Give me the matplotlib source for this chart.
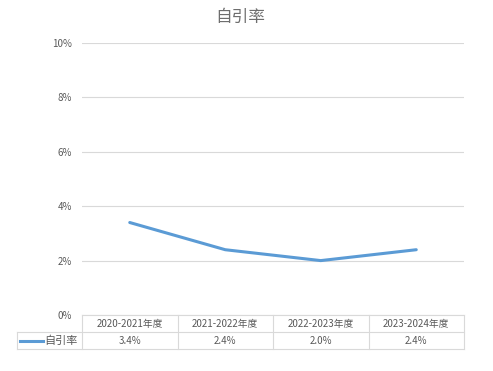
import matplotlib
matplotlib.use("Agg")
import matplotlib.pyplot as plt
from matplotlib.lines import Line2D
from matplotlib.transforms import blended_transform_factory

plt.rcParams['font.family'] = ['Noto Sans CJK SC', 'DejaVu Sans']

categories = ["2020-2021年度", "2021-2022年度", "2022-2023年度", "2023-2024年度"]
series_name = "自引率"
values = [3.4, 2.4, 2.0, 2.4]
value_labels = ["3.4%", "2.4%", "2.0%", "2.4%"]
yticks = [0, 2, 4, 6, 8, 10]

BLUE = "#5B9BD5"
GRID = "#D9D9D9"
TXT = "#595959"

fig = plt.figure(figsize=(4.93, 3.71), dpi=100)
ax = fig.add_axes([82 / 493, 1 - 315 / 371, 382 / 493, 272 / 371])

x = list(range(len(categories)))
ax.plot(x, values, color=BLUE, lw=2.2, solid_capstyle="round")
ax.set_xlim(-0.5, len(categories) - 0.5)
ax.set_ylim(0, 10)
ax.set_yticks(yticks)
ax.set_yticklabels([f"{v}%" for v in yticks], fontsize=7, color=TXT)
ax.tick_params(axis="y", length=0, pad=7)
ax.set_xticks([])
ax.grid(axis="y", color=GRID, lw=0.8)
for s in ax.spines.values():
    s.set_visible(False)
fig.text(240 / 493, 1 - 17 / 371, series_name, fontsize=12, color="#6E6E6E",
         ha="center", va="center")

# data table under the plot
tr = blended_transform_factory(ax.transData, ax.transAxes)
rh = 17 / 272
left = -0.5 - 65 / 95.5
right = len(categories) - 0.5
kw = dict(transform=tr, color=GRID, lw=0.8, clip_on=False)
# horizontal lines
ax.add_line(Line2D([-0.5, right], [0, 0], **kw))
ax.add_line(Line2D([left, right], [-rh, -rh], **kw))
ax.add_line(Line2D([left, right], [-2 * rh, -2 * rh], **kw))
# vertical lines
ax.add_line(Line2D([left, left], [-rh, -2 * rh], **kw))
for i in range(len(categories) + 1):
    ax.add_line(Line2D([i - 0.5, i - 0.5], [0, -2 * rh], **kw))
for i, (c, v) in enumerate(zip(categories, value_labels)):
    ax.text(i, -rh / 2, c, transform=tr, ha="center", va="center",
            fontsize=7, color=TXT)
    ax.text(i, -1.5 * rh, v, transform=tr, ha="center", va="center",
            fontsize=7, color=TXT)
# legend key
ax.add_line(Line2D([left + 0.03, left + 0.27], [-1.5 * rh] * 2, transform=tr,
                   color=BLUE, lw=2.2, clip_on=False))
ax.text(left + 0.29, -1.5 * rh, series_name, transform=tr, ha="left",
        va="center", fontsize=8, color=TXT)

fig.savefig("out.png", dpi=100)
